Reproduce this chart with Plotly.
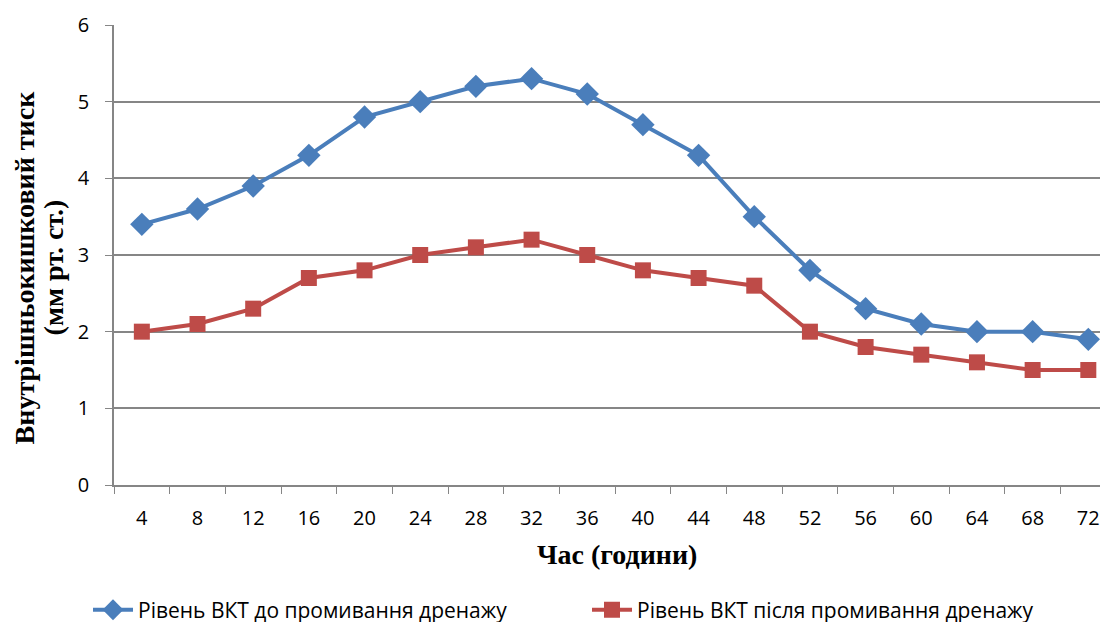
import plotly.graph_objects as go

hours = ["4", "8", "12", "16", "20", "24", "28", "32", "36", "40", "44", "48", "52", "56", "60", "64", "68", "72"]
before = [3.4, 3.6, 3.9, 4.3, 4.8, 5.0, 5.2, 5.3, 5.1, 4.7, 4.3, 3.5, 2.8, 2.3, 2.1, 2.0, 2.0, 1.9]
after = [2.0, 2.1, 2.3, 2.7, 2.8, 3.0, 3.1, 3.2, 3.0, 2.8, 2.7, 2.6, 2.0, 1.8, 1.7, 1.6, 1.5, 1.5]
name_before = "Рівень ВКТ до промивання дренажу"
name_after = "Рівень ВКТ після промивання дренажу"

fig = go.Figure()
fig.add_trace(go.Scatter(x=hours, y=before, name=name_before, mode="lines+markers",
                         line=dict(color="#4a7ebb", width=4),
                         marker=dict(symbol="diamond", size=18, color="#4a7ebb")))
fig.add_trace(go.Scatter(x=hours, y=after, name=name_after, mode="lines+markers",
                         line=dict(color="#be4b48", width=4),
                         marker=dict(symbol="square", size=16, color="#be4b48")))

axis_font = dict(family="Open Sans, sans-serif", size=20, color="#000000")
serif = "Liberation Serif, Times New Roman, serif"
W = 1092
PW = W - 106
fig.update_layout(
    width=W, height=614,
    margin=dict(l=106, r=0, t=17, b=137, autoexpand=False),
    paper_bgcolor="white", plot_bgcolor="white",
    showlegend=True,
    legend=dict(orientation="h", x=-26 / PW, xanchor="left", y=-0.272, yanchor="middle",
                font=dict(family="Open Sans, sans-serif", size=21, color="#000000"),
                entrywidth=444, entrywidthmode="pixels", itemwidth=40),
    xaxis=dict(type="category", range=[-0.5, 17.21], tickfont=axis_font,
               showline=True, linecolor="#868686", linewidth=1.5,
               ticks="outside", ticklen=7, tickcolor="#868686", tickson="boundaries",
               ticklabelstandoff=14,
               showgrid=False, zeroline=False),
    yaxis=dict(range=[0, 6], dtick=1, tickfont=axis_font,
               showline=True, linecolor="#868686", linewidth=1.5,
               ticks="outside", ticklen=7, tickcolor="#868686", ticklabelstandoff=12,
               showgrid=True, gridcolor="#868686", gridwidth=1.5, zeroline=False),
    annotations=[
        dict(text="<b>Внутрішньокишковий тиск</b>",
             textangle=-90, xref="paper", yref="paper",
             x=-89.5 / PW, y=0.472, xanchor="center", yanchor="middle", showarrow=False,
             font=dict(family=serif, size=28, color="#000000")),
        dict(text="<b>(мм рт. ст.)</b>",
             textangle=-90, xref="paper", yref="paper",
             x=-60.5 / PW, y=0.472, xanchor="center", yanchor="middle", showarrow=False,
             font=dict(family=serif, size=28, color="#000000")),
        dict(text="<b>Час (години)</b>", xref="paper", yref="paper",
             x=(609 - 106) / PW, y=-0.152, xanchor="center", yanchor="middle", showarrow=False,
             font=dict(family=serif, size=28, color="#000000")),
    ],
)

fig.write_html("out.html")
